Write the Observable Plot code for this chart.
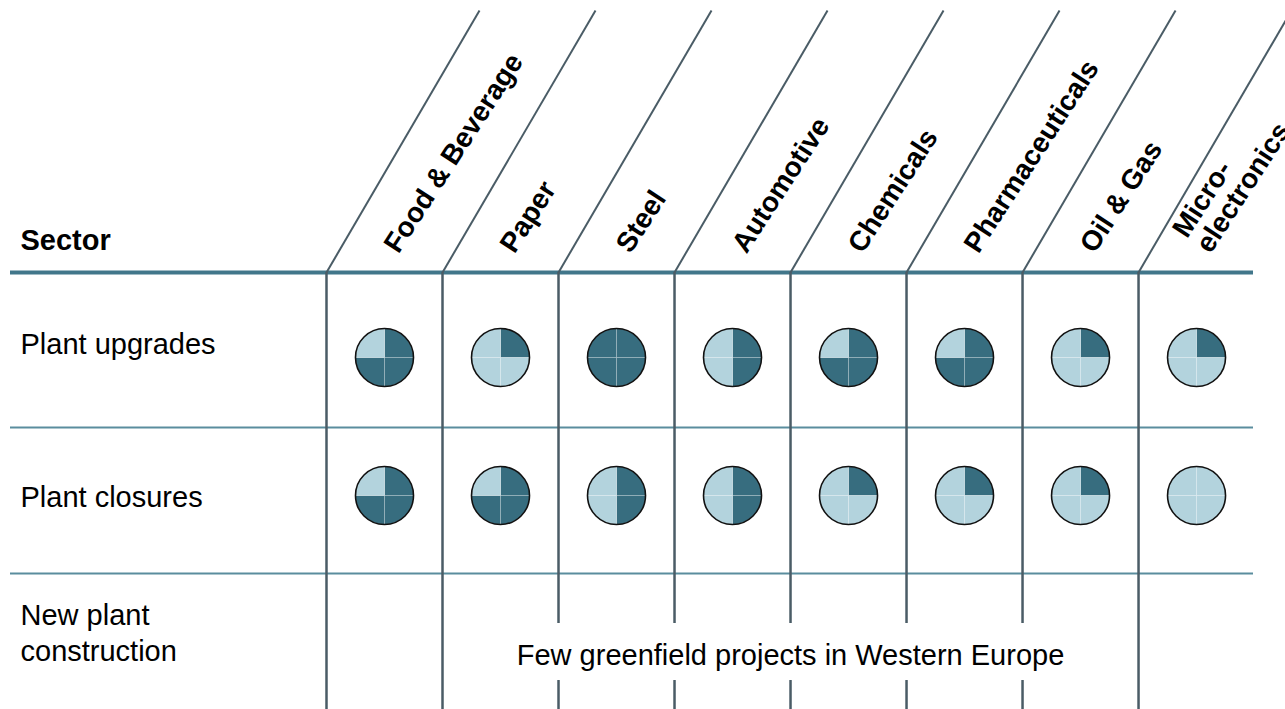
<!DOCTYPE html>
<html><head><meta charset="utf-8">
<script src="https://cdn.jsdelivr.net/npm/d3@7"></script>
<script src="https://cdn.jsdelivr.net/npm/@observablehq/plot@0.6"></script>
<style>
html,body{margin:0;padding:0;background:#fff;overflow:hidden;}
#chart svg{overflow:hidden;display:block;}
</style></head><body><div id="chart"></div>
<script>
// ---- data ----
const headerTitle = "Sector";
const sectors = ["Food & Beverage","Paper","Steel","Automotive","Chemicals","Pharmaceuticals","Oil & Gas","Micro-\nelectronics"];
const activities = ["Plant upgrades","Plant closures","New plant\nconstruction"];
// number of filled quarters (0–4) per sector
const upgrades = [3,1,4,2,3,3,1,1];
const closures = [3,3,2,2,1,1,1,0];
const note = "Few greenfield projects in Western Europe";
const noteFrom = "Paper", noteTo = "Oil & Gas";

// ---- style / layout ----
const DARK = "#376d7f", LIGHT = "#b3d3dd";
const LINE = "#4a5c66", HEAD = "#41768a", SEP = "#5a8d9e";
const FONT = "Liberation Sans, Arial, Helvetica, sans-serif";
const FS = 29, HFS = 28;
const HEADER_Y = -0.616, TOP_Y = -2.514, BOTTOM_Y = 2.6;
const SEP_Y = [0.507, 1.565];
const GAP = [1.928, 2.341];
const SLANT = 1.319;
const labelNudge = [-0.11, 0, -0.015];
const NOTE_Y = 2.159, TITLE_Y = -0.848;

const pieRows = [upgrades, closures];
const pies = pieRows.flatMap((vals, r) => vals.map((v, c) => ({col: c, row: r, value: v})));

const i0 = sectors.indexOf(noteFrom), i1 = sectors.indexOf(noteTo) + 1;
const boundaries = d3.range(sectors.length);
const vsegs = boundaries.flatMap(b => (b > i0 && b < i1)
  ? [{x: b, y1: HEADER_Y, y2: GAP[0]}, {x: b, y1: GAP[1], y2: BOTTOM_Y}]
  : [{x: b, y1: HEADER_Y, y2: BOTTOM_Y}]);

const quadSymbol = k => ({
  draw(ctx, size) {
    const r = Math.sqrt(size / Math.PI);
    const a0 = -Math.PI / 2 + k * Math.PI / 2, a1 = a0 + Math.PI / 2;
    ctx.moveTo(0, 0);
    ctx.lineTo(r * Math.cos(a0), r * Math.sin(a0));
    ctx.arc(0, 0, r, a0, a1);
    ctx.closePath();
  }
});

const chart = Plot.plot({
  width: 1285, height: 709,
  marginLeft: 10, marginRight: 32, marginTop: 0, marginBottom: 0,
  style: {fontFamily: FONT, background: "#fff", color: "#000"},
  x: {domain: [-2.724, 7.991], axis: null},
  y: {domain: [-2.587, 2.551], reverse: true, axis: null},
  color: {type: "identity"},
  marks: [
    Plot.ruleY(SEP_Y, {stroke: SEP, strokeWidth: 2}),
    Plot.ruleY([HEADER_Y], {stroke: HEAD, strokeWidth: 4}),
    Plot.ruleX(vsegs, {x: "x", y1: "y1", y2: "y2", stroke: LINE, strokeWidth: 2.5}),
    Plot.link(boundaries, {x1: d => d, y1: HEADER_Y, x2: d => d + SLANT, y2: TOP_Y, stroke: LINE, strokeWidth: 2}),
    Plot.text([headerTitle], {x: -2.724, y: TITLE_Y, dx: 10, text: d => d, textAnchor: "start", fontWeight: "bold", fontSize: FS, fill: "#000"}),
    Plot.text(sectors, {x: (d, i) => i + 0.5, y: HEADER_Y, dx: 14, dy: -18, text: d => d, rotate: -57,
      textAnchor: "start", lineAnchor: "bottom", lineHeight: 1.0, fontWeight: "bold", fontSize: HFS, fill: "#000"}),
    Plot.text(activities, {x: -2.724, y: (d, i) => i + labelNudge[i], dx: 10, text: d => d, textAnchor: "start",
      fontSize: FS, lineHeight: 1.24, fill: "#000"}),
    ...[0, 1, 2, 3].map(k => Plot.dot(pies, {x: d => d.col + 0.5, y: "row", r: 29, symbol: quadSymbol(k),
      fill: d => d.value > k ? DARK : LIGHT, stroke: "white", strokeOpacity: 0.22, strokeWidth: 1})),
    Plot.dot(pies, {x: d => d.col + 0.5, y: "row", r: 29, fill: "none", stroke: "#111", strokeWidth: 1.6}),
    Plot.text([note], {x: (i0 + i1) / 2, y: NOTE_Y, text: d => d, textAnchor: "middle", fontSize: FS, fill: "#000"})
  ]
});
document.getElementById("chart").appendChild(chart);
</script></body></html>
